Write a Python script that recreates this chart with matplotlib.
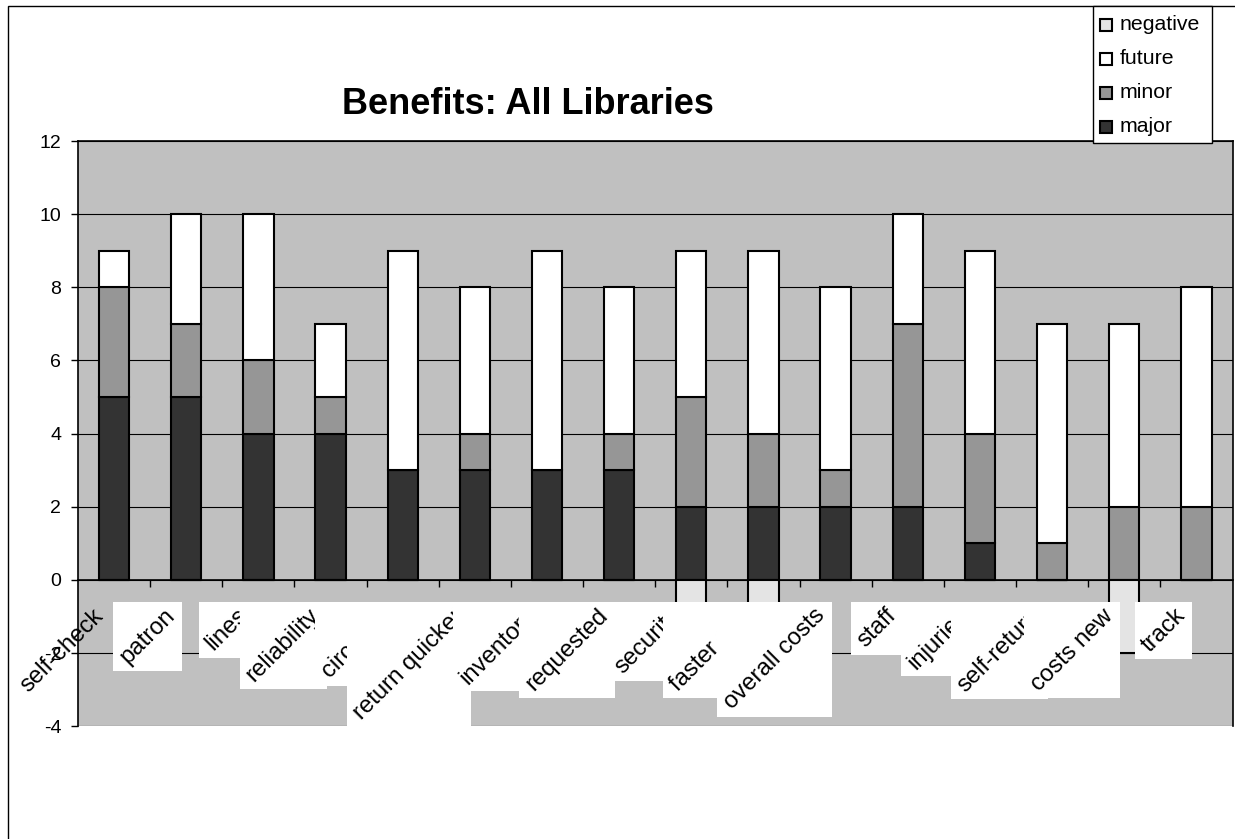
import matplotlib
matplotlib.use('Agg')
import numpy as np
import matplotlib.pyplot as plt
from matplotlib.patches import Rectangle
from matplotlib.transforms import offset_copy

plt.rcParams['font.family'] = ['Liberation Sans', 'DejaVu Sans']
plt.rcParams['axes.unicode_minus'] = False

# benefit categories and the counts per answer
categories = ['self-check', 'patron', 'lines', 'reliability', 'circ time',
              'return quicker', 'inventory', 'requested', 'security', 'faster sort',
              'overall costs', 'staff', 'injuries', 'self-return', 'costs new', 'track']
major = [5, 5, 4, 4, 3, 3, 3, 3, 2, 2, 2, 2, 1, 0, 0, 0]
minor = [3, 2, 2, 1, 0, 1, 0, 1, 3, 2, 1, 5, 3, 1, 2, 2]
future = [1, 3, 4, 2, 6, 4, 6, 4, 4, 5, 5, 3, 5, 6, 5, 6]
negative = [0, 0, 0, 0, 0, 0, 0, 0, -1, -1, 0, 0, 0, 0, -2, 0]

legend_names = ['negative', 'future', 'minor', 'major']
colors = {'major': '#333333', 'minor': '#969696',
          'future': '#ffffff', 'negative': '#e4e4e4'}

W, H = 1235, 839
fig = plt.figure(figsize=(W / 100, H / 100), dpi=100)
fig.patch.set_facecolor('white')

# chart border
fig.add_artist(Rectangle((8 / W, -0.02), 1.0, 1 - 6 / H + 0.02, transform=fig.transFigure,
                         fill=False, edgecolor='black', linewidth=1, zorder=0))

ax = fig.add_axes([78 / W, 1 - 726.3 / H, (1232.5 - 78) / W, (726.3 - 141) / H])
ax.set_facecolor('#c0c0c0')

x = np.arange(len(categories))
kw = dict(width=0.42, edgecolor='black', linewidth=1.5, zorder=2)
ax.bar(x, major, color=colors['major'], **kw)
ax.bar(x, minor, bottom=major, color=colors['minor'], **kw)
ax.bar(x, future, bottom=np.add(major, minor), color=colors['future'], **kw)
ax.bar(x, negative, color=colors['negative'], **kw)

ax.set_xlim(-0.5, len(categories) - 0.5)
ax.set_ylim(-4, 12)
ax.set_yticks(range(-4, 13, 2))
ax.set_xticks(np.arange(0.5, len(categories) - 1, 1))
ax.set_xticklabels([])
ax.tick_params(axis='x', length=5, width=1, direction='out')
ax.tick_params(axis='y', length=5, width=1, pad=7, labelsize=14)
ax.grid(axis='y', color='black', linewidth=0.8)
ax.set_axisbelow(True)
ax.spines['bottom'].set_position(('data', 0))
for sp in ax.spines.values():
    sp.set_linewidth(1.2)

# slanted category labels, each on a white box covering the one before it
pad = 2.7
tr = offset_copy(ax.transData, fig=fig, x=-(4 + pad), y=-pad, units='dots')
texts = []
for i, name in enumerate(categories):
    t = ax.text(i, -0.6, name, transform=tr, rotation=45, ha='right', va='top',
                fontsize=17.2, zorder=6 + 2 * i, clip_on=False)
    texts.append(t)

renderer = fig.canvas.get_renderer()
inv = ax.transData.inverted()
for i, t in enumerate(texts):
    if i == 0:
        continue
    bb = t.get_window_extent(renderer)
    (x0, y0), (x1, y1) = inv.transform([(bb.x0 - pad, bb.y0 - pad), (bb.x1 + pad, bb.y1 + pad)])
    ax.add_patch(Rectangle((x0, y0), x1 - x0, y1 - y0, facecolor='white',
                           edgecolor='none', zorder=5 + 2 * i))

fig.text(527.5 / W, 1 - 105 / H, 'Benefits: All Libraries', ha='center', va='center',
         fontsize=26, fontweight='bold')

# legend
fig.add_artist(Rectangle((1093 / W, 1 - 143 / H), 119 / W, 137 / H, transform=fig.transFigure,
                         facecolor='white', edgecolor='black', linewidth=1, zorder=10))
for k, name in enumerate(legend_names):
    yc = 25 + 34 * k
    fig.add_artist(Rectangle((1100 / W, 1 - (yc + 6) / H), 12 / W, 12 / H,
                             transform=fig.transFigure, facecolor=colors[name],
                             edgecolor='black', linewidth=1.5, zorder=11))
    fig.text(1120 / W, 1 - yc / H, name, ha='left', va='center', fontsize=15.3, zorder=11)

fig.savefig('out.png', dpi=100)
